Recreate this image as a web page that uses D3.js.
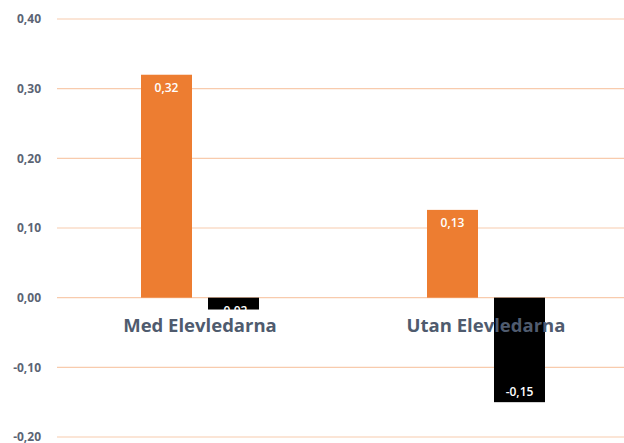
<!DOCTYPE html>
<html>
<head>
<meta charset="utf-8">
<script src="https://cdn.jsdelivr.net/npm/d3@7"></script>
<style>
  body { margin: 0; background: #fff; }
  svg { display: block; font-family: "Open Sans", Lato, sans-serif; }
</style>
</head>
<body>
<div id="chart"></div>
<script>
// chart data
const categories = ['Med Elevledarna', 'Utan Elevledarna'];
const seriesNames = ['A', 'B'];
const seriesA = [0.32, 0.126];
const seriesB = [-0.017, -0.15];
const tickValues = [-0.20, -0.10, 0.00, 0.10, 0.20, 0.30, 0.40];

const width = 624, height = 443;
const margin = { top: 19, right: 0, bottom: 6, left: 57 };
const colors = ['#ed7d31', '#000000'];

const svg = d3.select('#chart').append('svg')
    .attr('width', width)
    .attr('height', height);

const y = d3.scaleLinear()
    .domain([-0.2, 0.4])
    .range([height - margin.bottom, margin.top]);

const x = d3.scaleBand()
    .domain(categories)
    .range([margin.left, margin.left + 572])
    .paddingInner(0)
    .paddingOuter(0);

const fmt = v => d3.format('.2f')(v).replace('.', ',').replace('−', '-');

// gridlines
svg.append('g')
    .selectAll('line')
    .data(tickValues)
    .join('line')
    .attr('x1', margin.left)
    .attr('x2', width)
    .attr('y1', d => y(d))
    .attr('y2', d => y(d))
    .attr('stroke', '#f8cbad')
    .attr('stroke-width', 1.2);

// tick labels
svg.append('g')
    .selectAll('text')
    .data(tickValues)
    .join('text')
    .attr('x', 41)
    .attr('y', d => y(d))
    .attr('dy', '0.35em')
    .attr('text-anchor', 'end')
    .attr('font-size', 12)
    .attr('font-weight', 'bold')
    .attr('fill', '#5b6474')
    .text(d => fmt(d));

// bars
const barW = 51, gap = 16;
const rows = [];
categories.forEach((c, i) => {
    [seriesA[i], seriesB[i]].forEach((v, s) => rows.push({ cat: c, s, v }));
});
const barX = d => x(d.cat) + x.bandwidth() / 2 - (barW * 2 + gap) / 2 + d.s * (barW + gap);

svg.append('g')
    .selectAll('rect')
    .data(rows)
    .join('rect')
    .attr('x', barX)
    .attr('width', barW)
    .attr('y', d => y(Math.max(0, d.v)))
    .attr('height', d => Math.abs(y(d.v) - y(0)))
    .attr('fill', d => colors[d.s]);

// data labels (inside end; short bars start from the base)
const labelY = d => {
    const h = Math.abs(y(d.v) - y(0));
    if (d.v >= 0) return y(d.v) + 13;
    return h < 26 ? y(0) + 13 : y(d.v) - 10;
};

svg.append('g')
    .selectAll('text')
    .data(rows)
    .join('text')
    .attr('x', d => barX(d) + barW / 2)
    .attr('y', labelY)
    .attr('dy', '0.35em')
    .attr('text-anchor', 'middle')
    .attr('font-size', 12)
    .attr('font-weight', 600)
    .attr('fill', '#fff')
    .text(d => fmt(d.v));

// category labels
svg.append('g')
    .selectAll('text')
    .data(categories)
    .join('text')
    .attr('x', d => x(d) + x.bandwidth() / 2)
    .attr('y', y(0) + 34)
    .attr('text-anchor', 'middle')
    .attr('font-size', 18.5)
    .attr('font-weight', 'bold')
    .attr('fill', '#4f5b6e')
    .text(d => d);
</script>
</body>
</html>
